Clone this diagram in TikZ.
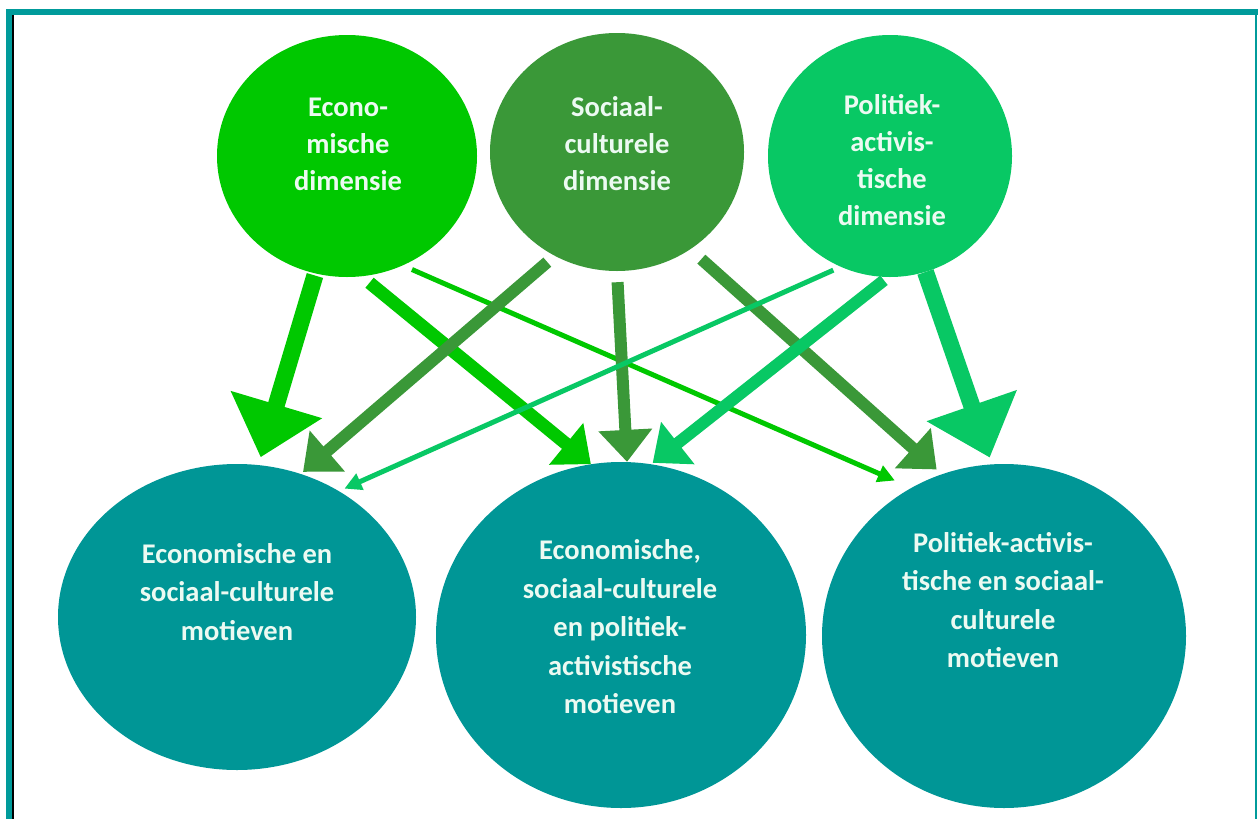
\documentclass[tikz,border=0pt]{standalone}
\usepackage{fontspec}
\setmainfont{Carlito}
\usetikzlibrary{arrows.meta,shapes.geometric}
\definecolor{ecoG}{RGB}{0,200,0}
\definecolor{socG}{RGB}{58,152,56}
\definecolor{polG}{RGB}{8,200,100}
\definecolor{tealC}{RGB}{0,150,150}
\definecolor{frameC}{RGB}{0,155,155}
\definecolor{txtC}{RGB}{236,250,242}
\begin{document}
\begin{tikzpicture}[x=1pt,y=-1pt,
  blob/.style={ellipse, inner sep=0pt, draw=none},
  lbltop/.style={text=txtC, font=\bfseries\fontsize{28.5}{37}\selectfont, align=center, inner sep=0pt},
  lblbot/.style={text=txtC, font=\bfseries\fontsize{28.5}{38.5}\selectfont, align=center, inner sep=0pt},
  bigarrow/.style={line width=17pt, -{Triangle[width=92pt,length=55pt]}},
  midarrow/.style={line width=12pt, -{Triangle[width=52pt,length=32pt]}},
  thinarrow/.style={line width=5pt, -{Triangle[width=17pt,length=17pt]}}
]
\useasboundingbox (0,0) rectangle (1258,819);
\fill[white] (0,0) rectangle (1258,819);
% frame
\fill[frameC] (6,9) rectangle (1258,15);
\fill[frameC] (6,9) rectangle (12,819);
\fill[black] (12,15) rectangle (13.5,819);
\fill[frameC] (1255,9) rectangle (1257,819);
% circles
\node[blob, fill=ecoG, minimum width=260pt, minimum height=242pt] (eco) at (347,156) {};
\node[blob, fill=socG, minimum width=254pt, minimum height=238pt] (soc) at (617,152) {};
\node[blob, fill=polG, minimum width=244pt, minimum height=242pt] (pol) at (890,156) {};
\node[blob, fill=tealC, minimum width=358pt, minimum height=306pt] (L) at (237,617) {};
\node[blob, fill=tealC, minimum width=370pt, minimum height=346pt] (M) at (621,635) {};
\node[blob, fill=tealC, minimum width=364pt, minimum height=344pt] (R) at (1004,636) {};
% labels
\node[lbltop] (ecoT) at (348,144) {Econo-\\mische\\dimensie};
\node[lbltop] (socT) at (617,144) {Sociaal-\\culturele\\dimensie};
\node[lbltop] (polT) at (892,160) {Politiek-\\activis-\\tische\\dimensie};
\node[lblbot] (LT) at (237,592) {Economische en\\sociaal-culturele\\motieven};
\node[lblbot] (MT) at (620,627) {Economische,\\sociaal-culturele\\en politiek-\\activistische\\motieven};
\node[lblbot] (RT) at (1003,600) {Politiek-activis-\\tische en sociaal-\\culturele\\motieven};
% arrows from economische dimensie
\draw[bigarrow, ecoG, shorten <=2pt, shorten >=8pt] (eco.-105.9) -- (L.82.2);
\draw[midarrow, ecoG, line width=13pt, shorten <=10pt] (eco.-83.7) -- (M.100.3);
\draw[thinarrow, ecoG, shorten <=10pt, shorten >=18pt] (eco.-63.1) -- (R.122.8);
% arrows from sociaal-culturele dimensie
\draw[midarrow, socG, shorten <=9.6pt, shorten >=3pt] (soc.-121.2) -- (L.66);
\draw[midarrow, socG, shorten <=11pt] (soc.-90.2) -- (M.88.3);
\draw[midarrow, socG, shorten <=14.7pt, shorten >=7pt] (soc.-53.7) -- (R.111.5);
% arrows from politiek-activistische dimensie
\draw[thinarrow, polG, shorten <=8pt, shorten >=6pt] (pol.-114.2) -- (L.51.8);
\draw[midarrow, polG, shorten <=5pt, shorten >=2pt] (pol.-91.5) -- (M.80.2);
\draw[bigarrow, polG, shorten >=7pt] (pol.-73.8) -- (R.94.9);
\end{tikzpicture}
\end{document}
